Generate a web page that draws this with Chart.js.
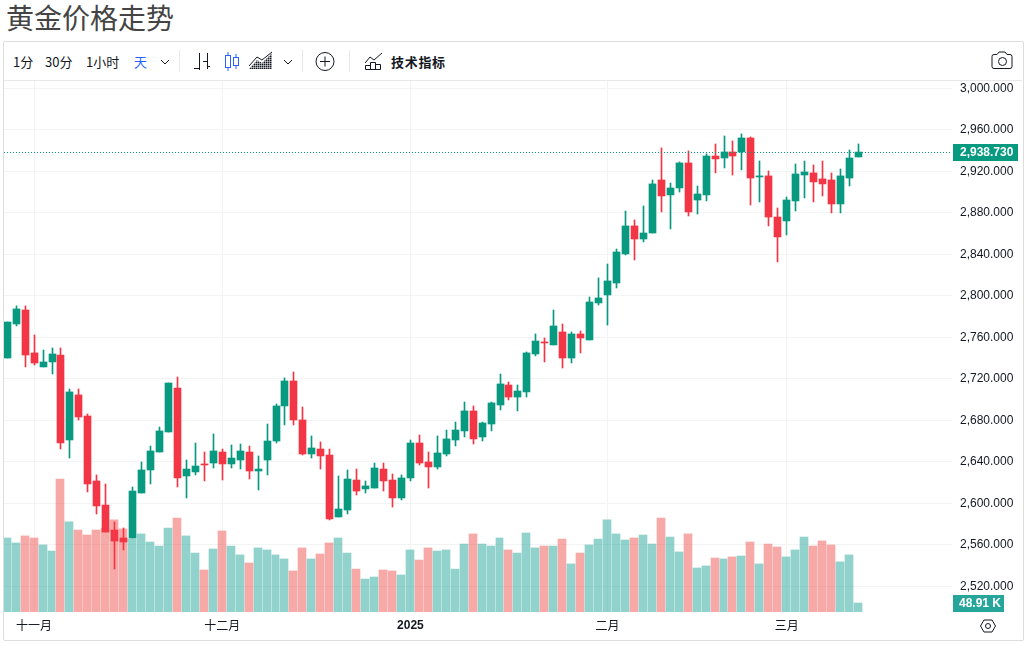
<!DOCTYPE html>
<html>
<head>
<meta charset="utf-8">
<title>黄金价格走势</title>
<script src="https://cdn.jsdelivr.net/npm/chart.js@4"></script>
<style>
  html, body { margin: 0; padding: 0; background: #fff; overflow: hidden; }
  body { width: 1031px; height: 645px; position: relative; font-family: "Noto Sans CJK SC", "Noto Sans", sans-serif; color: #131722; }
  h1 { position: absolute; left: 6px; top: 0; margin: 0; font-size: 28px; line-height: 34px; font-weight: 400; color: #444; }
  #box { position: absolute; left: 3px; top: 41px; width: 1019px; height: 598px; border: 1px solid #ddd; border-radius: 2px; }
  #line { position: absolute; left: 4px; top: 80px; width: 1018px; height: 1px; background: #e8e8e8; }
  .t { position: absolute; top: 52px; line-height: 20px; font-size: 13px; white-space: nowrap; }
  .sep { position: absolute; top: 50px; width: 1px; height: 22px; background: #e8e8e8; }
  svg.i { position: absolute; overflow: visible; }
  canvas { position: absolute; left: 4px; top: 81px; }
</style>
</head>
<body>
<h1>黄金价格走势</h1>
<div id="box"></div>
<div id="line"></div>

<div class="t" style="left:13px">1分</div>
<div class="t" style="left:45px">30分</div>
<div class="t" style="left:86px">1小时</div>
<div class="t" style="left:134px;color:#2962ff">天</div>
<svg class="i" style="left:0;top:0" width="1031" height="80" fill="none" stroke="#131722" stroke-width="1">
  <path d="M161 60l4 4 4-4"/>
  <path d="M284 60l4 4 4-4"/>
  <!-- bars -->
  <path d="M199.5 53v17M194 68.500h5M207.500 53v16M203 61.500h4M207 66.500h3"/>
  <!-- candles -->
  <g stroke="#2962ff">
    <path d="M228 52v19M236 54v15"/>
    <rect x="225.500" y="55.500" width="5" height="12" fill="#fff"/>
    <rect x="233.500" y="57.500" width="5" height="8" fill="#fff"/>
  </g>
  <!-- area -->
  <defs>
    <pattern id="hatch" width="2" height="2" patternUnits="userSpaceOnUse">
      <rect width="1" height="1" fill="#444"/>
    </pattern>
  </defs>
  <path d="M249 69l8-9 5 3 10-10v16z" fill="url(#hatch)" stroke="none"/>
  <path d="M249 66l8-9 5 3 10-8"/>
  <!-- plus -->
  <circle cx="325" cy="61.500" r="9"/>
  <path d="M325 56.500v10M320 61.500h10"/>
  <!-- indicators -->
  <path d="M365 63l5-6 4 3 8-7"/>
  <path d="M365.500 69.500v-4h5v4zM370.500 69.500v-7h5v7zM375.500 69.500v-5h5v5z"/>
  <!-- camera -->
  <path d="M994 54.500h3l2-2.500h6l2 2.500h3q2 0 2 2v10q0 2-2 2h-16q-2 0-2-2v-10q0-2 2-2z"/>
  <circle cx="1002.500" cy="61.500" r="4"/>
</svg>
<div class="sep" style="left:179px"></div>
<div class="sep" style="left:302px"></div>
<div class="sep" style="left:349px"></div>
<div class="t" style="left:391px;font-weight:700;letter-spacing:.7px">技术指标</div>
<svg class="i" style="left:979px;top:617px" width="18" height="18" fill="none" stroke="#131722" stroke-width="1">
  <path d="M1.500 9l3.500-6h8l3.500 6-3.500 6h-8z"/>
  <circle cx="9" cy="9" r="2.500"/>
</svg>

<canvas id="myChart" width="1018" height="558"></canvas>

<script>
// [open, high, low, close, volume in K]
const candles = [
  [2740.2, 2774.9, 2740.2, 2774.9, 402],
  [2773.0, 2790.4, 2771.1, 2787.5, 375],
  [2786.5, 2790.4, 2731.6, 2743.1, 413],
  [2745.1, 2762.4, 2733.5, 2735.4, 402],
  [2731.6, 2747.9, 2731.6, 2736.4, 364],
  [2736.4, 2749.9, 2724.8, 2744.1, 331],
  [2743.1, 2749.9, 2652.5, 2658.3, 722],
  [2661.2, 2710.4, 2643.8, 2707.5, 489],
  [2704.6, 2710.4, 2680.5, 2683.4, 445],
  [2684.3, 2686.3, 2611.1, 2618.8, 418],
  [2621.7, 2627.5, 2589.9, 2597.6, 445],
  [2598.5, 2618.8, 2572.5, 2572.5, 456],
  [2574.4, 2582.2, 2536.9, 2563.8, 500],
  [2566.7, 2576.4, 2555.2, 2562.9, 451],
  [2566.7, 2615.9, 2566.7, 2612.0, 396],
  [2610.1, 2640.0, 2610.1, 2632.3, 424],
  [2632.3, 2655.4, 2618.8, 2650.6, 380],
  [2649.6, 2673.7, 2649.6, 2669.9, 358],
  [2668.9, 2716.1, 2668.9, 2716.1, 456],
  [2711.3, 2721.9, 2615.9, 2624.6, 510],
  [2626.5, 2641.9, 2605.3, 2633.2, 413],
  [2630.4, 2658.3, 2627.5, 2636.1, 320],
  [2638.1, 2649.6, 2621.7, 2637.1, 228],
  [2639.0, 2667.0, 2634.2, 2650.6, 342],
  [2649.6, 2652.5, 2622.6, 2638.1, 440],
  [2638.1, 2656.4, 2634.2, 2643.8, 358],
  [2641.9, 2657.3, 2633.2, 2650.6, 310],
  [2649.6, 2655.4, 2623.6, 2631.3, 266],
  [2631.3, 2645.8, 2613.0, 2633.2, 348],
  [2641.9, 2676.6, 2627.5, 2660.2, 337],
  [2660.2, 2695.9, 2658.3, 2694.0, 310],
  [2694.0, 2721.0, 2675.7, 2718.1, 288],
  [2718.1, 2726.7, 2675.7, 2680.5, 223],
  [2680.5, 2693.0, 2646.7, 2647.7, 348],
  [2647.7, 2665.1, 2643.8, 2653.5, 288],
  [2652.5, 2659.3, 2633.2, 2645.8, 315],
  [2646.7, 2652.5, 2584.1, 2585.1, 375],
  [2587.0, 2626.5, 2587.0, 2594.7, 402],
  [2593.7, 2632.3, 2589.9, 2623.6, 320],
  [2622.6, 2633.2, 2608.2, 2612.0, 233],
  [2614.0, 2621.7, 2610.1, 2616.9, 179],
  [2614.9, 2639.0, 2614.9, 2634.2, 190],
  [2633.2, 2639.0, 2612.0, 2621.7, 228],
  [2622.6, 2628.4, 2596.6, 2605.3, 223],
  [2605.3, 2627.5, 2603.4, 2624.6, 201],
  [2624.6, 2661.2, 2621.7, 2658.3, 337],
  [2658.3, 2666.0, 2637.1, 2639.0, 282],
  [2640.0, 2649.6, 2614.9, 2635.2, 348],
  [2635.2, 2665.1, 2633.2, 2648.7, 331],
  [2647.7, 2670.8, 2645.8, 2662.2, 337],
  [2661.2, 2678.5, 2655.4, 2670.8, 233],
  [2669.9, 2697.8, 2664.1, 2689.2, 369],
  [2689.2, 2694.0, 2657.3, 2662.2, 424],
  [2664.1, 2678.5, 2660.2, 2677.6, 369],
  [2676.6, 2697.8, 2669.9, 2696.9, 358],
  [2694.9, 2724.8, 2690.1, 2715.2, 402],
  [2714.2, 2717.1, 2699.8, 2702.6, 337],
  [2702.6, 2714.2, 2689.2, 2708.4, 320],
  [2707.5, 2746.0, 2702.6, 2745.1, 429],
  [2744.1, 2763.4, 2742.2, 2756.6, 348],
  [2755.7, 2759.5, 2736.4, 2754.7, 358],
  [2752.8, 2786.5, 2752.8, 2771.1, 358],
  [2765.3, 2773.0, 2730.6, 2740.2, 396],
  [2740.2, 2765.3, 2735.4, 2763.4, 261],
  [2763.4, 2766.3, 2745.1, 2759.5, 320],
  [2757.6, 2799.0, 2757.6, 2794.2, 364],
  [2793.3, 2817.4, 2791.3, 2798.1, 396],
  [2801.0, 2830.8, 2772.0, 2814.5, 500],
  [2812.5, 2845.3, 2807.7, 2842.4, 424],
  [2840.5, 2881.9, 2839.5, 2867.5, 391],
  [2867.5, 2873.3, 2834.7, 2854.9, 402],
  [2854.9, 2886.8, 2852.1, 2860.7, 418],
  [2860.7, 2911.8, 2860.7, 2908.0, 369],
  [2911.8, 2942.7, 2881.0, 2896.4, 510],
  [2897.4, 2908.9, 2864.6, 2904.1, 407],
  [2904.1, 2929.2, 2900.2, 2928.2, 326],
  [2928.2, 2939.8, 2877.1, 2881.0, 424],
  [2892.5, 2906.0, 2879.0, 2898.3, 239],
  [2897.4, 2936.9, 2891.6, 2934.9, 250],
  [2934.9, 2946.5, 2918.6, 2932.1, 293],
  [2933.0, 2954.2, 2923.4, 2938.8, 288],
  [2938.8, 2949.4, 2916.6, 2934.9, 299],
  [2938.8, 2956.2, 2921.5, 2952.3, 304],
  [2952.3, 2953.3, 2887.7, 2913.7, 380],
  [2914.7, 2930.1, 2890.6, 2915.7, 261],
  [2915.7, 2920.5, 2867.5, 2876.1, 369],
  [2876.1, 2884.8, 2832.8, 2856.9, 353],
  [2872.3, 2895.4, 2858.8, 2892.5, 299],
  [2891.6, 2927.2, 2881.9, 2917.6, 337],
  [2916.6, 2930.1, 2894.5, 2919.5, 407],
  [2918.6, 2926.3, 2890.6, 2909.9, 358],
  [2912.8, 2930.1, 2896.4, 2908.0, 386],
  [2911.8, 2918.6, 2880.0, 2888.7, 364],
  [2888.7, 2922.4, 2880.0, 2915.7, 272],
  [2913.7, 2940.7, 2906.0, 2933.0, 310],
  [2934.0, 2946.5, 2934.0, 2938.73, 48.91]
];

const UP = '#089981', DOWN = '#f23645';
const UP_VOL = 'rgba(38,166,154,0.5)', DOWN_VOL = 'rgba(239,83,80,0.5)';
const lastPrice = 2938.73;
const monthTicks = { 3: '十一月', 24: '十二月', 45: '2025', 67: '二月', 87: '三月' };
const isUp = c => c[3] >= c[0];

// snap marks to whole pixels, the reference chart has crisp candles
const snapMarks = {
  id: 'snapMarks',
  afterDatasetsUpdate(chart) {
    chart.data.datasets.forEach((ds, i) => {
      const els = chart.getDatasetMeta(i).data;
      if (ds.type === 'line') {
        els.forEach(el => { el.y = Math.floor(el.y) + 0.5; });
      } else if (ds.label === 'vol') {
        // one pixel gap between volume bars, so bars are 7 or 8 wide
        const lefts = els.map(el => Math.floor(el.x) - 4);
        els.forEach((el, j) => {
          const w = j < els.length - 1 ? lefts[j + 1] - lefts[j] - 1 : 8;
          el.width = w;
          el.x = lefts[j] + w / 2;
        });
      } else {
        els.forEach(el => { el.x = Math.floor(el.x) + 0.5; });
      }
    });
  }
};

// the price and volume tags on the right side
const lastTags = {
  id: 'lastTags',
  afterDraw(chart) {
    const ctx = chart.ctx, y = Math.round(chart.scales.y.getPixelForValue(lastPrice));
    const right = chart.chartArea.right;
    ctx.save();
    ctx.textBaseline = 'middle';
    ctx.fillStyle = UP;
    ctx.fillRect(right + 1, y - 8, 65, 17);
    ctx.fillStyle = '#fff';
    ctx.font = 'bold 12px "Liberation Sans", sans-serif';
    ctx.fillText('2,938.730', right + 8, y + 1);
    ctx.fillStyle = '#26a69a';
    ctx.fillRect(right + 1, chart.chartArea.bottom - 17, 51, 17);
    ctx.fillStyle = '#fff';
    ctx.fillText('48.91 K', right + 7, chart.chartArea.bottom - 8);
    ctx.restore();
  }
};

new Chart(document.getElementById('myChart').getContext('2d'), {
  type: 'bar',
  data: {
    datasets: [
      {
        type: 'line', label: 'last', yAxisID: 'y', order: 1,
        data: [{ x: -0.3594, y: lastPrice }, { x: 105.4446, y: lastPrice }],
        borderColor: UP, borderWidth: 1, borderDash: [1, 2], pointRadius: 0
      },
      {
        label: 'body', yAxisID: 'y', order: 2, barThickness: 7,
        data: candles.map((c, i) => ({ x: i, y: [c[0], c[3]] })),
        backgroundColor: candles.map(c => isUp(c) ? UP : DOWN)
      },
      {
        label: 'wick', yAxisID: 'y', order: 3, barThickness: 1,
        data: candles.map((c, i) => ({ x: i, y: [c[2], c[1]] })),
        backgroundColor: candles.map(c => isUp(c) ? UP : DOWN)
      },
      {
        label: 'vol', yAxisID: 'vol', order: 4, barThickness: 8,
        data: candles.map((c, i) => ({ x: i, y: c[4] })),
        backgroundColor: candles.map(c => isUp(c) ? UP_VOL : DOWN_VOL)
      }
    ]
  },
  options: {
    responsive: false,
    animation: false,
    events: [],
    datasets: { bar: { grouped: false } },
    layout: { padding: 0 },
    plugins: { legend: { display: false }, tooltip: { enabled: false } },
    scales: {
      x: {
        type: 'linear',
        offset: false,
        min: -0.3594,
        max: 105.4446,
        border: { display: false },
        grid: { color: '#f2f3f3', drawTicks: false, offset: false },
        afterBuildTicks: scale => { scale.ticks = Object.keys(monthTicks).map(v => ({ value: +v })); },
        afterFit: scale => { scale.height = 27; scale.paddingLeft = 0; scale.paddingRight = 0; },
        ticks: {
          autoSkip: false,
          maxRotation: 0,
          padding: 6,
          color: '#131722',
          font: ctx => ctx.tick && ctx.tick.value === 45
            ? { family: '"Liberation Sans", sans-serif', size: 12, weight: 'bold' }
            : { family: '"Noto Sans CJK SC", sans-serif', size: 12 },
          callback: v => monthTicks[v]
        }
      },
      y: {
        position: 'right',
        min: 2495.4,
        max: 3007.2,
        border: { display: false },
        grid: { color: '#f2f3f3', drawTicks: false },
        afterFit: scale => { scale.width = 70; scale.paddingTop = 0; scale.paddingBottom = 0; },
        ticks: {
          stepSize: 40,
          includeBounds: false,
          padding: 8,
          color: '#131722',
          font: { family: '"Liberation Sans", sans-serif', size: 12 },
          callback: v => v.toLocaleString('en-US', { minimumFractionDigits: 3 })
        }
      },
      vol: {
        display: false,
        min: 0,
        max: 2883
      }
    }
  },
  plugins: [snapMarks, lastTags]
});
</script>
</body>
</html>
